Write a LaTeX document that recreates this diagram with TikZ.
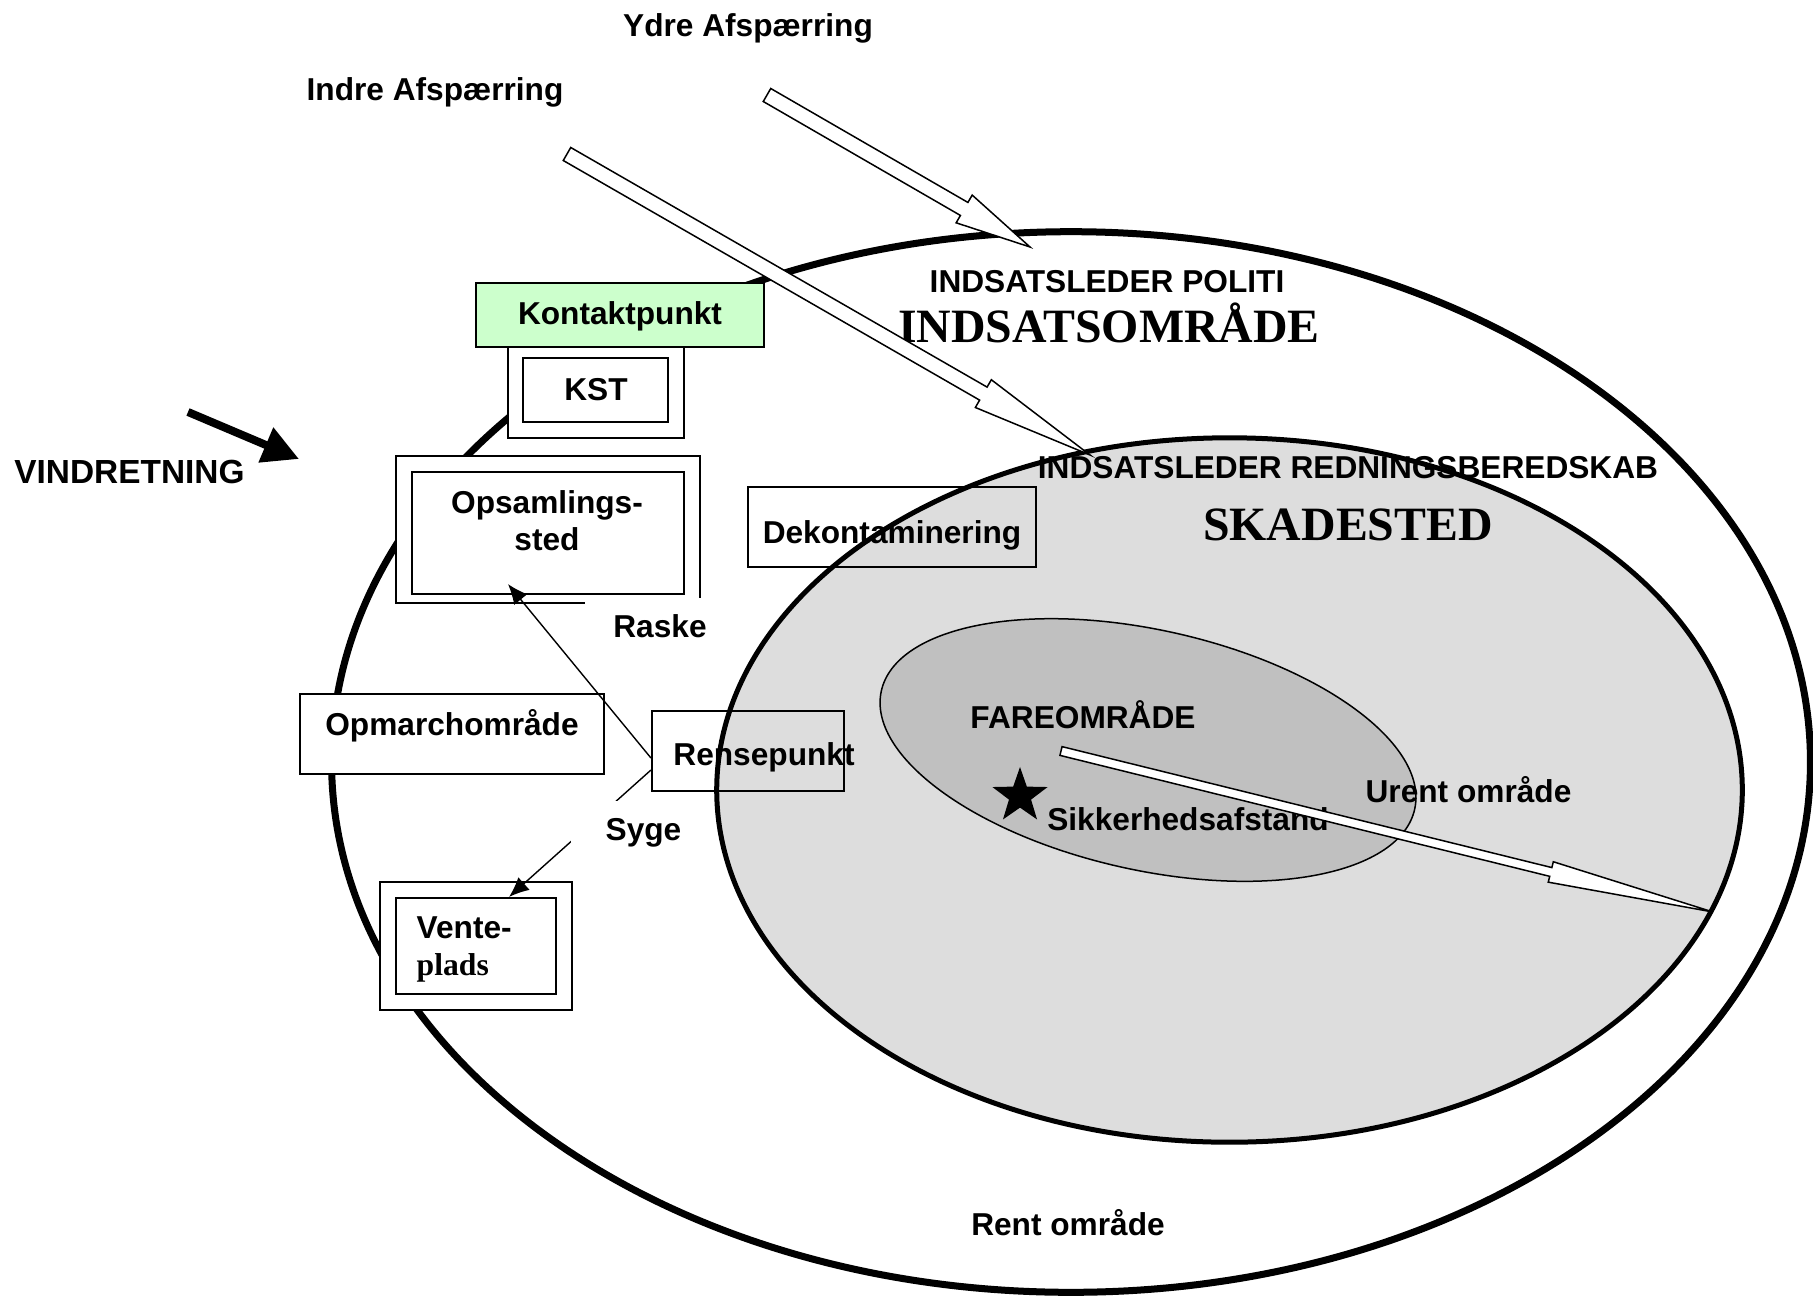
\documentclass[tikz,border=0pt]{standalone}
\usepackage{fontspec}
\setmainfont{Liberation Sans}
\newfontfamily\timesfont{Liberation Serif}
\usepackage{xcolor}
\usepackage{tikz}
\usetikzlibrary{calc,arrows.meta,shapes.geometric}
\definecolor{kontaktgreen}{HTML}{CCFFCC}
\definecolor{skadegray}{HTML}{DDDDDD}
\definecolor{faregray}{HTML}{C0C0C0}
\tikzset{>={Latex[length=2mm, width=1.7mm]},
    box/.style={draw, line width=0.2mm, fill=white, inner sep=0pt},
    openbox/.style={draw, line width=0.2mm, inner sep=0pt},
    txt/.style={font=\bfseries\fontsize{9}{10.5}\selectfont, inner sep=0pt},
    lbl/.style={txt, fill=white, inner xsep=2.8mm, inner ysep=1.65mm},
    title/.style={font=\timesfont\bfseries\fontsize{13.6}{15}\selectfont, inner sep=0pt},
    blockarr/.style={draw, fill=white, line width=0.15mm},
    conn/.style={line width=0.14mm, ->}}
\newcommand{\blockarrow}[5]{%
    \coordinate (ba) at ($(#2)!#5!(#1)$);
    \draw[blockarr] ($(#1)!#3!90:(#2)$) -- ($(ba)!#3!90:(#2)$) -- ($(ba)!#4!90:(#2)$)
        -- (#2) -- ($(ba)!#4!-90:(#2)$) -- ($(ba)!#3!-90:(#2)$) -- ($(#1)!#3!-90:(#2)$) -- cycle;}

\begin{document}
\begin{tikzpicture}[x=0.01cm, y=-0.01cm]
    \useasboundingbox (0, 0) rectangle (1813, 1297);
    \draw[line width=0.7mm] (1071, 762) ellipse [x radius=7.39cm, y radius=5.3cm];
    \fill[skadegray] (1229.5, 790) ellipse [x radius=5.125cm, y radius=3.52cm];
    \fill[faregray, rotate around={-12.5:(1148, 750)}] (1148, 750) ellipse [x radius=2.73cm, y radius=1.2cm];
    \node[star, star points=5, star point ratio=2.5, fill=black, inner sep=0pt, minimum size=5.8mm] (star) at (1020, 796) {};

    \node[box, minimum width=1.76cm, minimum height=1.08cm] (kstouter) at (596, 384) {};
    \node[box, fill=kontaktgreen, minimum width=2.88cm, minimum height=0.64cm] (kontakt) at (620, 315) {};
    \node[box, minimum width=1.45cm, minimum height=0.64cm] (kst) at (595.5, 390) {};
    \node[box, minimum width=3.04cm, minimum height=1.47cm] (opsouter) at (548, 529.5) {};
    \node[box, minimum width=2.72cm, minimum height=1.22cm] (ops) at (548, 533) {};
    \node[box, minimum width=3.04cm, minimum height=0.8cm] (opmarch) at (452, 734) {};
    \node[openbox, minimum width=1.92cm, minimum height=0.8cm] (rense) at (748, 751) {};
    \node[openbox, minimum width=2.88cm, minimum height=0.8cm] (dekon) at (892, 527) {};
    \node[box, minimum width=1.92cm, minimum height=1.28cm] (venteouter) at (476, 946) {};
    \node[box, minimum width=1.6cm, minimum height=0.96cm] (vente) at (476, 946) {};

    \draw[conn] ([yshift=-0.7mm]rense.west) -- ([xshift=-4mm, yshift=1.1mm]ops.south);
    \draw[conn] ([yshift=-1.9mm]rense.west) -- ([xshift=3.3mm]vente.north);
    \node[lbl, anchor=base] (raske) at (660, 637) {Raske};
    \node[lbl, inner xsep=3.5mm, anchor=base] (syge) at (643.5, 840) {Syge};

    \node[txt, anchor=base] (ydre) at (748, 37) {Ydre Afspærring};
    \node[txt, anchor=base] (indre) at (435, 101) {Indre Afspærring};
    \node[txt, anchor=base] (politi) at (1107, 292) {INDSATSLEDER POLITI};
    \node[title, anchor=base] (indsats) at (1109, 342) {INDSATSOMRÅDE};
    \node[txt, anchor=base] (redning) at (1348, 478) {INDSATSLEDER REDNINGSBEREDSKAB};
    \node[title, anchor=base] (skade) at (1348, 540) {SKADESTED};
    \node[txt, font=\bfseries\fontsize{9.5}{11}\selectfont, anchor=base] (vind) at (129.5, 483) {VINDRETNING};
    \node[txt, anchor=base] (kontakttxt) at (620, 324) {Kontaktpunkt};
    \node[txt, anchor=base] (ksttxt) at (596, 400) {KST};
    \node[txt, align=center, anchor=base] (opstxt) at (547, 550) {Opsamlings-\\sted};
    \node[txt, anchor=base] (opmarchtxt) at (452, 735) {Opmarchområde};
    \node[txt, anchor=base] (rensetxt) at (764, 765) {Rensepunkt};
    \node[txt, anchor=base] (dekontxt) at (892, 543) {Dekontaminering};
    \node[txt, align=left, anchor=base west] (ventetxt) at (416, 975) {Vente-\\{\timesfont plads}};
    \node[txt, anchor=base] (fare) at (1083, 728) {FAREOMRÅDE};
    \node[txt, anchor=base] (sikker) at (1188, 830) {Sikkerhedsafstand};
    \node[txt, anchor=base] (urent) at (1468.5, 802) {Urent område};
    \node[txt, anchor=base] (rent) at (1068, 1235) {Rent område};

    \draw[line width=0.5mm] (1229.5, 790) ellipse [x radius=5.125cm, y radius=3.52cm];
    \draw[line width=0.15mm, rotate around={-12.5:(1148, 750)}] (1148, 750) ellipse [x radius=2.73cm, y radius=1.2cm];

    \coordinate (ydretail) at (767, 95);
    \coordinate (ydretip) at (1030, 247);
    \coordinate (indretail) at (567, 154);
    \coordinate (indretip) at (1090, 455);
    \coordinate (sikkertail) at (1061, 751);
    \coordinate (sikkertip) at (1713, 912);
    \blockarrow{ydretail}{ydretip}{0.75mm}{1.6mm}{7.6mm}
    \blockarrow{indretail}{indretip}{0.75mm}{1.6mm}{12.3mm}
    \blockarrow{sikkertail}{sikkertip}{0.45mm}{1.05mm}{16.7mm}

    \coordinate (windtail) at (188, 412);
    \coordinate (windtip) at (299, 459);
    \draw[line width=0.8mm, -{Triangle[length=3.6mm, width=3.6mm]}] (windtail) -- (windtip);
\end{tikzpicture}
\end{document}
